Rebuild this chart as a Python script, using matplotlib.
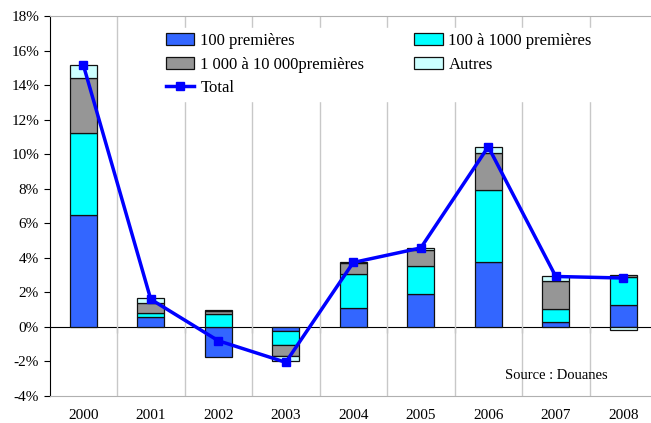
import numpy as np
import matplotlib.pyplot as plt
from matplotlib.ticker import FuncFormatter

plt.rcParams['font.family'] = ['Liberation Serif', 'DejaVu Serif']

years = ['2000', '2001', '2002', '2003', '2004', '2005', '2006', '2007', '2008']
top100 = [6.50, 0.58, -1.75, -0.23, 1.12, 1.90, 3.76, 0.29, 1.26]
top1000 = [4.73, 0.25, 0.74, -0.84, 1.94, 1.65, 4.19, 0.74, 1.61]
top10000 = [3.20, 0.58, 0.20, -0.62, 0.62, 0.93, 2.13, 1.64, 0.15]
autres = [0.75, 0.24, 0.03, -0.31, 0.05, 0.10, 0.35, 0.25, -0.19]
total = [15.18, 1.60, -0.80, -2.05, 3.73, 4.57, 10.43, 2.92, 2.83]

series = [
    ('100 premières', top100, '#3366ff'),
    ('100 à 1000 premières', top1000, '#00ffff'),
    ('1 000 à 10 000premières', top10000, '#969696'),
    ('Autres', autres, '#ccffff'),
]

fig = plt.figure(figsize=(6.51, 4.23), dpi=100)
ax = fig.add_axes([49.5 / 651, 27 / 423, 607.5 / 651, 380 / 423])

x = np.arange(len(years))
pos = np.zeros(len(years))
neg = np.zeros(len(years))
handles = {}
for name, vals, col in series:
    vals = np.array(vals)
    bottom = np.where(vals >= 0, pos, neg)
    h = ax.bar(x, vals, 0.4, bottom=bottom, color=col, edgecolor='#111111',
               linewidth=0.9, zorder=3)
    handles[name] = h
    pos = pos + np.where(vals >= 0, vals, 0)
    neg = neg + np.where(vals < 0, vals, 0)

line, = ax.plot(x, total, color='#0000ff', lw=2.5, marker='s', ms=6, zorder=4)

ax.set_xlim(-0.5, 8.5)
ax.set_ylim(-4, 18)
ax.set_yticks(np.arange(-4, 19, 2))
ax.yaxis.set_major_formatter(FuncFormatter(lambda v, p: '%d%%' % v))
ax.tick_params(axis='y', direction='out', length=4, labelsize=11, color='black')

ax.set_xticks(x, years)
ax.tick_params(axis='x', length=0, labelsize=11, pad=9)

for b in np.arange(0.5, 9, 1):
    ax.axvline(b, color='#c8c8c8', lw=1, zorder=1)

ax.spines['left'].set_color('black')
ax.spines['bottom'].set_color('#b0b0b0')
ax.spines['top'].set_color('#b0b0b0')
ax.spines['right'].set_visible(False)

# zero line with boundary ticks
sec = ax.secondary_xaxis(4 / 22)
sec.set_xticks(np.arange(0.5, 9, 1), [''] * 9)
sec.tick_params(direction='out', length=4, color='black')
sec.spines['bottom'].set_color('black')

order = ['100 premières', '1 000 à 10 000premières', None,
         '100 à 1000 premières', 'Autres']
hs = [handles[o] if o else line for o in order]
labs = [o if o else 'Total' for o in order]
leg = ax.legend(hs, labs, ncol=2, loc='upper left', bbox_to_anchor=(0.17, 0.99),
                frameon=True, fontsize=12, handlelength=1.7, handleheight=0.75,
                columnspacing=3.0, labelspacing=0.45, handletextpad=0.35,
                borderpad=0.3)
leg.get_frame().set_edgecolor('white')
leg.get_frame().set_alpha(1)
leg.set_zorder(5)

ax.text(0.919, 0.053, 'Source : Douanes', transform=ax.transAxes, fontsize=10.5,
        ha='right', va='center', zorder=5)

fig.savefig('out.png', dpi=100)
